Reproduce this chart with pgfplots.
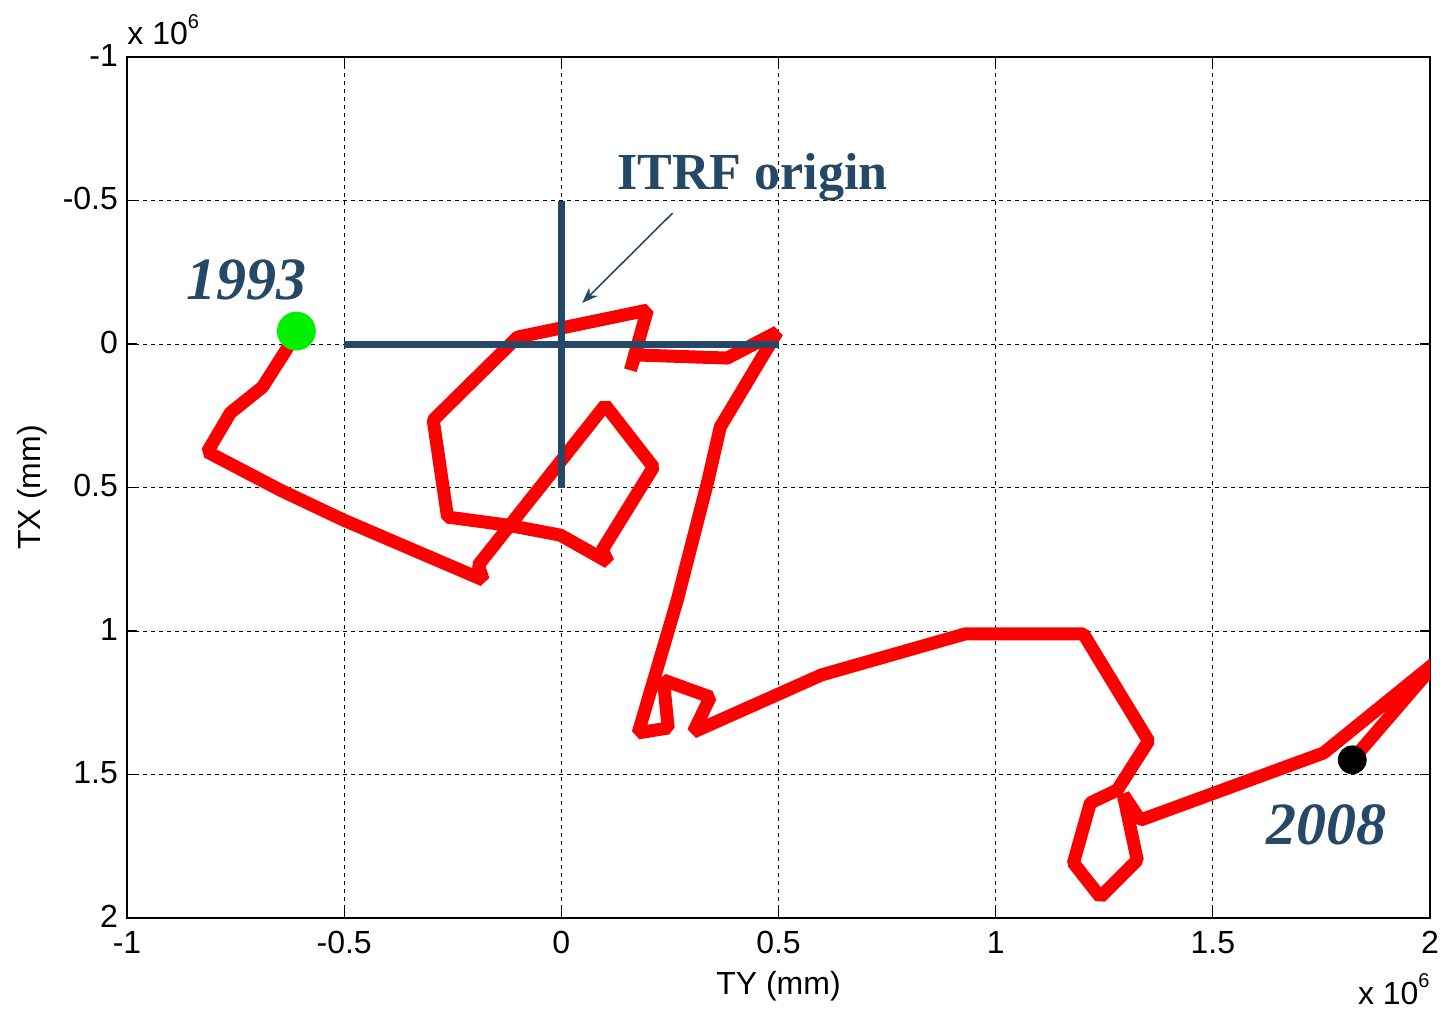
\documentclass[border=0pt]{standalone}
\usepackage{pgfplots}
\pgfplotsset{compat=1.18}
\usetikzlibrary{arrows.meta}
\usepackage{fontspec}
\setmainfont{Liberation Sans}
\newfontfamily\serifnote{Liberation Serif}
\definecolor{navy}{RGB}{36,72,102}
\definecolor{mred}{RGB}{255,0,0}
\definecolor{mgreen}{RGB}{0,240,0}

\begin{document}
\begin{tikzpicture}
\begin{axis}[
  name=ax,
  scale only axis,
  width=651.5pt, height=430.5pt,
  xmin=-1, xmax=2, ymin=-1, ymax=2,
  y dir=reverse,
  xtick={-1,-0.5,0,0.5,1,1.5,2},
  ytick={-1,-0.5,0,0.5,1,1.5,2},
  xticklabels={-1,-0.5,0,0.5,1,1.5,2},
  yticklabels={-1,-0.5,0,0.5,1,1.5,2},
  grid=major,
  major grid style={black, dash pattern=on 2pt off 2pt, line width=0.5pt},
  axis line style={black, line width=0.8pt},
  tick align=inside,
  major tick length=5pt,
  tick style={black, line width=0.6pt},
  tick label style={font=\fontsize{16}{18}\selectfont},
  xticklabel style={yshift=-3pt},
  yticklabel style={xshift=-1pt, yshift=1pt},
  xlabel={TY (mm)}, ylabel={TX (mm)},
  label style={font=\fontsize{16}{18}\selectfont},
  xlabel style={yshift=-2pt},
  ylabel style={yshift=1pt},
]
% geocentre track
\addplot[mred, line width=6.5pt, line join=bevel] coordinates {
  (-0.629,0.010) (-0.688,0.150) (-0.762,0.240) (-0.815,0.376)
  (-0.647,0.509) (-0.502,0.613) (-0.180,0.822) (-0.191,0.770)
  (0.101,0.213) (0.212,0.429) (0.094,0.718) (0.108,0.760)
  (-0.002,0.666) (-0.124,0.631) (-0.262,0.603) (-0.295,0.265)
  (-0.101,-0.024) (0.198,-0.118) (0.159,0.091) (0.170,0.038)
  (0.382,0.049) (0.497,-0.042) (0.366,0.289) (0.338,0.474)
  (0.267,0.892) (0.177,1.355) (0.246,1.338) (0.235,1.171)
  (0.343,1.230) (0.304,1.352) (0.599,1.153) (0.930,1.010)
  (1.202,1.010) (1.352,1.383) (1.280,1.554) (1.218,1.599)
  (1.179,1.808) (1.241,1.927) (1.326,1.798) (1.294,1.571)
  (1.333,1.659) (1.755,1.425) (2.02,1.100) (1.835,1.425)
};

% ITRF origin cross
\addplot[navy, line width=3.5pt] coordinates {(-0.5,0) (0.5,0)};
\addplot[navy, line width=3.5pt] coordinates {(0,-0.5) (0,0.5)};

% start and end
\addplot[only marks, mark=*, mark size=9.5pt, mgreen, mark options={draw=mgreen, fill=mgreen}] coordinates {(-0.610,-0.045)};
\addplot[only marks, mark=*, mark size=7pt, black] coordinates {(1.821,1.449)};

\draw[navy, line width=0.8pt, -{Stealth[length=8pt,width=6pt]}] (axis cs:0.256,-0.456) -- (axis cs:0.048,-0.143);
\node[navy, font=\serifnote\bfseries\fontsize{26}{28}\selectfont] at (axis cs:0.440,-0.582) {ITRF origin};
\node[navy, font=\serifnote\bfseries\itshape\fontsize{30}{32}\selectfont] at (axis cs:-0.725,-0.223) {1993};
\node[navy, font=\serifnote\bfseries\itshape\fontsize{30}{32}\selectfont] at (axis cs:1.761,1.676) {2008};
\end{axis}

\node[anchor=base west, font=\fontsize{16}{18}\selectfont, inner sep=0pt] at ([xshift=0pt, yshift=6pt]ax.north west) {x 10\raisebox{1.0ex}{\fontsize{10}{10}\selectfont 6}};
\node[anchor=base east, font=\fontsize{16}{18}\selectfont, inner sep=0pt] at ([xshift=0pt, yshift=-43pt]ax.south east) {x 10\raisebox{1.0ex}{\fontsize{10}{10}\selectfont 6}};

\pgfresetboundingbox
\path[use as bounding box] ([xshift=-63.5pt, yshift=-47pt]ax.south west) rectangle ([xshift=10.5pt, yshift=28.5pt]ax.north east);
\end{tikzpicture}
\end{document}
